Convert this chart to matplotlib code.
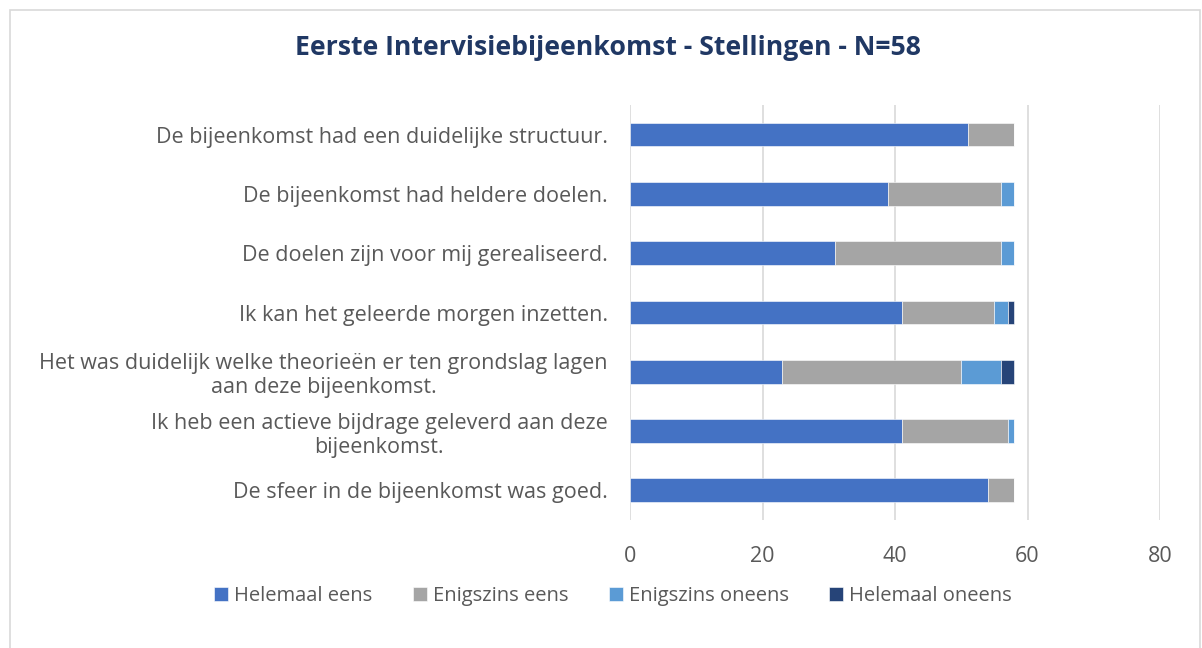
import matplotlib.pyplot as plt
from matplotlib.patches import Rectangle

# statements, top to bottom as shown
statements = [
    "De bijeenkomst had een duidelijke structuur.",
    "De bijeenkomst had heldere doelen.",
    "De doelen zijn voor mij gerealiseerd.",
    "Ik kan het geleerde morgen inzetten.",
    "Het was duidelijk welke theorieën er ten grondslag lagen\naan deze bijeenkomst.",
    "Ik heb een actieve bijdrage geleverd aan deze\nbijeenkomst.",
    "De sfeer in de bijeenkomst was goed.",
]
helemaal_eens = [51, 39, 31, 41, 23, 41, 54]
enigszins_eens = [7, 17, 25, 14, 27, 16, 4]
enigszins_oneens = [0, 2, 2, 2, 6, 1, 0]
helemaal_oneens = [0, 0, 0, 1, 2, 0, 0]

series = [
    ("Helemaal eens", helemaal_eens, "#4472C4"),
    ("Enigszins eens", enigszins_eens, "#A5A5A5"),
    ("Enigszins oneens", enigszins_oneens, "#5B9BD5"),
    ("Helemaal oneens", helemaal_oneens, "#264478"),
]

plt.rcParams['font.family'] = ['Open Sans', 'DejaVu Sans']

fig = plt.figure(figsize=(12.02, 6.48), dpi=100)
ax = fig.add_axes([630 / 1202, 1 - 520 / 648, 530 / 1202, 415 / 648])

ypos = list(range(len(statements)))
left = [0] * len(statements)
for name, vals, col in series:
    ax.barh(ypos, vals, left=left, height=0.4, color=col, label=name,
            edgecolor='white', linewidth=0.4, zorder=3)
    left = [a + b for a, b in zip(left, vals)]

ax.set_xlim(0, 80)
ax.set_ylim(len(statements) - 0.5, -0.5)
ax.set_xticks([0, 20, 40, 60, 80])
ax.set_yticks(ypos)
ax.set_yticklabels(statements, multialignment='center', linespacing=1.2)
ax.tick_params(axis='both', length=0, colors='#595959', labelsize=15.5)
ax.tick_params(axis='x', pad=19)
ax.tick_params(axis='y', pad=16)
ax.grid(axis='x', color='#D9D9D9', linewidth=1.2, zorder=0)
for s in ax.spines.values():
    s.set_visible(False)

fig.text(0.506, 1 - 48 / 648, "Eerste Intervisiebijeenkomst - Stellingen - N=58",
         ha='center', va='center', fontsize=19.2, fontweight='bold', color='#203864')

fig.legend(loc='center', bbox_to_anchor=(0.51, 1 - 596 / 648), ncol=4, frameon=False,
           fontsize=14.5, labelcolor='#595959', handlelength=0.7, handleheight=0.7,
           handletextpad=0.3, columnspacing=2.0)

fig.patches.append(Rectangle((10 / 1202, -0.01), 1190 / 1202, 1 - 10 / 648 + 0.01,
                             transform=fig.transFigure, fill=False,
                             edgecolor='#D9D9D9', linewidth=1.2))

fig.savefig('out.png', dpi=100, facecolor='white')
